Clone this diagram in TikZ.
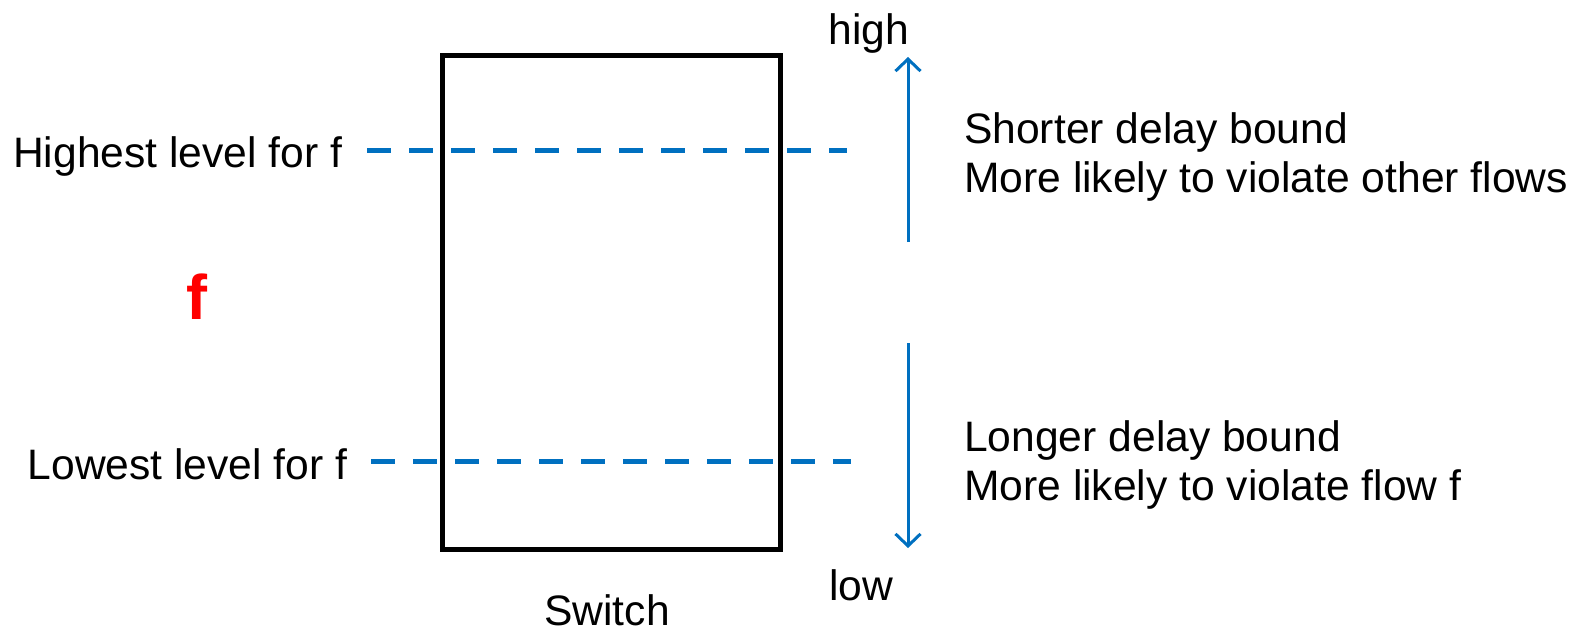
\documentclass[tikz,border=0pt]{standalone}
\usepackage{fontspec}
\setmainfont{Liberation Sans}
\usetikzlibrary{arrows.meta}
\definecolor{flowblue}{RGB}{0,112,192}
\definecolor{flowred}{RGB}{255,0,0}
\begin{document}
\begin{tikzpicture}[x=1bp,y=-1bp,
  lbl/.style={inner sep=0pt,font=\fontsize{42.6bp}{50bp}\selectfont},
  level/.style={draw=flowblue,line width=5bp,dash pattern=on 24bp off 18bp},
  axis/.style={draw=flowblue,line width=3bp,-{Straight Barb[length=12bp,width=25bp,line width=3bp]}},
  swbox/.style={draw=black,line width=5bp,minimum width=338.5bp,minimum height=494bp,inner sep=0pt}]
\useasboundingbox (0,0) rectangle (1574,632);

% switch body
\node[swbox] (sw) at (611.25,302.5) {};
\node[lbl,anchor=base] (swl) at (607,625) {Switch};

% priority levels of flow f
\node[lbl,anchor=base east] (hil) at (342.5,168) {Highest level for f};
\node[lbl,anchor=base east] (lol) at (347.5,479) {Lowest level for f};
\node[inner sep=0pt,anchor=base,text=flowred,font=\fontsize{63bp}{70bp}\selectfont\bfseries] (f) at (197,319) {f};

\coordinate (hiA) at (367,150.7);
\coordinate (hiB) at (847,150.7);
\coordinate (loA) at (371,461.7);
\coordinate (loB) at (851,461.7);
\draw[level] (hiA) -- (hiB);
\draw[level] (loA) -- (loB);

% priority scale
\coordinate (upS) at (908,242);
\coordinate (upE) at (908,57);
\coordinate (dnS) at (908,343);
\coordinate (dnE) at (908,548);
\draw[axis] (upS) -- (upE);
\draw[axis] (dnS) -- (dnE);
\node[lbl,anchor=base] (high) at (869,45) {high};
\node[lbl,anchor=base] (low) at (861,600) {low};

% consequences
\node[lbl,anchor=base west] (s1) at (964,144) {Shorter delay bound};
\node[lbl,anchor=base west] (s2) at (964,193) {More likely to violate other flows};
\node[lbl,anchor=base west] (l1) at (964,451) {Longer delay bound};
\node[lbl,anchor=base west] (l2) at (964,500) {More likely to violate flow f};
\end{tikzpicture}
\end{document}
